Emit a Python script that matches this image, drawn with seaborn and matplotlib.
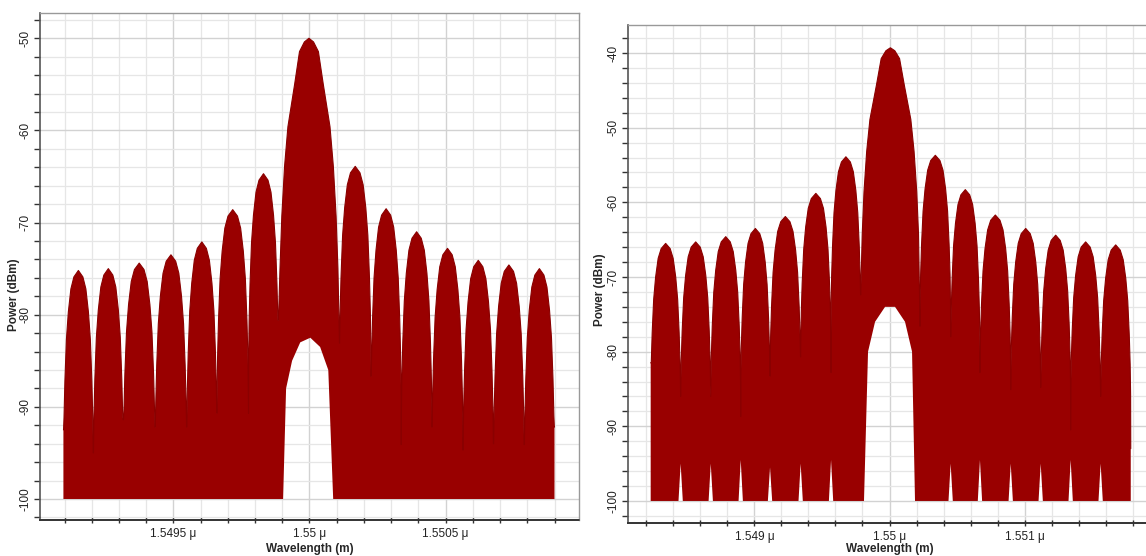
import numpy as np
import pandas as pd
import matplotlib
matplotlib.use("Agg")
import matplotlib.pyplot as plt
import seaborn as sns
from matplotlib.ticker import MultipleLocator, FuncFormatter

sns.set_theme(style="white")
plt.rcParams["font.family"] = ["Liberation Sans", "DejaVu Sans"]

# ---------------- data ----------------
# Left panel: lobe boundaries (nulls, µm), level at each null (dBm), lobe peaks (dBm)
left_nulls_um = [1.549096, 1.549206, 1.549316, 1.549433, 1.549549, 1.549660, 1.549776,
                 1.549886, 1.550110, 1.550226, 1.550337, 1.550450, 1.550564, 1.550676,
                 1.550789, 1.550900]
left_null_dbm = [-92.5, -95.0, -91.4, -92.2, -92.2, -90.7, -90.7, -80.6, -83.1, -86.7,
                 -94.1, -92.2, -94.7, -94.0, -94.1, -92.2]
left_peak_dbm = [-75.2, -75.0, -74.4, -73.5, -72.1, -68.6, -64.7, -50.0, -63.9, -68.5,
                 -71.0, -72.8, -74.1, -74.6, -75.0]
# hollow under the main lobe (lower edge of the trace)
left_hole_um = [1.549903, 1.549914, 1.549936, 1.549966, 1.550003, 1.550039, 1.550069, 1.550087]
left_hole_dbm = [-100.0, -88.0, -85.0, -83.0, -82.5, -83.5, -86.0, -100.0]
# lower edge of the trace at the inner nulls (none visible in the left panel)
left_floor_notch_dbm = []

# Right panel
right_nulls_um = [1.548231, 1.548453, 1.548676, 1.548898, 1.549115, 1.549342, 1.549567,
                  1.549787, 1.550226, 1.550453, 1.550670, 1.550898, 1.551120, 1.551342,
                  1.551564, 1.551787]
right_null_dbm = [-81.5, -86.0, -86.0, -88.7, -83.3, -80.7, -82.8, -72.4, -76.6, -78.0,
                  -82.8, -85.1, -84.8, -90.5, -86.0, -93.0]
right_peak_dbm = [-65.5, -65.3, -64.6, -63.5, -61.9, -58.8, -53.9, -39.3, -53.7, -58.3,
                  -61.7, -63.5, -64.4, -65.3, -65.7]
right_hole_um = [1.549811, 1.549841, 1.549893, 1.549967, 1.550041, 1.550115, 1.550167, 1.550189]
right_hole_dbm = [-100.0, -80.0, -76.0, -74.0, -74.0, -76.0, -80.0, -100.0]
# lower edge of the trace at inner nulls 1..14 (None = no gap at the bottom)
right_floor_notch_dbm = [-95.0, -95.0, -94.5, -95.5, -95.0, -94.5, None,
                         None, -95.0, -94.5, -95.0, -95.0, -94.5, -95.0]

# lobe outline (fraction of half-width from lobe centre, dB below lobe peak)
side_frac = [0.0, 0.3, 0.5, 0.67, 0.8, 0.9, 0.96, 0.99]
side_drop = [0.0, 0.7, 2.0, 4.5, 7.5, 12.0, 16.0, 20.0]
main_frac = [0.0, 0.15, 0.31, 0.47, 0.69, 0.8, 0.89, 0.95]
main_drop = [0.0, 0.4, 1.45, 5.0, 9.6, 13.9, 19.3, 25.0]

FLOOR = -100.0
RED = "#990000"


def build_trace(nulls, null_db, peaks):
    main_idx = int(np.argmax(peaks))
    xs, ys = [nulls[0]], [null_db[0]]
    for i, pk in enumerate(peaks):
        e0, e1 = nulls[i], nulls[i + 1]
        c, h = (e0 + e1) / 2, (e1 - e0) / 2
        fr, dr = (main_frac, main_drop) if i == main_idx else (side_frac, side_drop)
        for f, d in zip(fr[::-1], dr[::-1]):
            if f == 0:
                continue
            xs.append(c - f * h); ys.append(max(pk - d, null_db[i]))
        xs.append(c); ys.append(pk)
        for f, d in zip(fr, dr):
            if f == 0:
                continue
            xs.append(c + f * h); ys.append(max(pk - d, null_db[i + 1]))
        xs.append(e1); ys.append(null_db[i + 1])
    return pd.DataFrame({"wavelength": xs, "power": ys})


def lower_edge(nulls, hole_x, hole_y, notches, half_w):
    pts = [(nulls[0], FLOOR), (nulls[-1], FLOOR)]
    pts += list(zip(hole_x, hole_y))
    for xn, lv in zip(nulls[1:-1], notches):
        if lv is None:
            continue
        pts += [(xn - half_w, FLOOR), (xn, lv), (xn + half_w, FLOOR)]
    pts.sort(key=lambda p: p[0])
    return np.array([p[0] for p in pts]), np.array([p[1] for p in pts])


def draw(ax, nulls, null_db, peaks, hole_x, hole_y, notches, half_w):
    tr = build_trace(nulls, null_db, peaks)
    up_x = np.r_[nulls[0], tr["wavelength"].values, nulls[-1]]
    up_y = np.r_[FLOOR, tr["power"].values, FLOOR]
    lo_x, lo_y = lower_edge(nulls, hole_x, hole_y, notches, half_w)
    ax.fill(np.r_[up_x, lo_x[::-1]], np.r_[up_y, lo_y[::-1]], color=RED, lw=0, zorder=2)
    sns.lineplot(data=tr, x="wavelength", y="power", ax=ax, color="#8a0000",
                 lw=0.8, sort=False, zorder=3, estimator=None)


def style(ax, xlim, ylim, xmaj, xmin, xlabelpad):
    ax.set_xlim(*xlim)
    ax.set_ylim(*ylim)
    ax.xaxis.set_major_locator(MultipleLocator(xmaj))
    ax.xaxis.set_minor_locator(MultipleLocator(xmin))
    ax.yaxis.set_major_locator(MultipleLocator(10))
    ax.yaxis.set_minor_locator(MultipleLocator(2))
    ax.xaxis.set_major_formatter(FuncFormatter(lambda v, p: f"{v:.6g} \u03bc"))
    ax.yaxis.set_major_formatter(FuncFormatter(lambda v, p: f"{v:.0f}"))
    ax.set_axisbelow(True)
    ax.grid(which="major", color="#d2d2d2", lw=1.0)
    ax.grid(which="minor", color="#e6e6e6", lw=0.9)
    ax.tick_params(axis="y", which="both", direction="out", length=4, width=1,
                   color="#333333", labelsize=8.5, labelcolor="#222222", pad=2,
                   labelrotation=90, left=True)
    ax.tick_params(axis="x", which="both", direction="inout", length=4, width=1,
                   color="#333333", labelsize=8.5, labelcolor="#222222", pad=4, bottom=True)
    for lab in ax.get_yticklabels():
        lab.set_va("center")
    ax.spines["left"].set_color("#555555")
    ax.spines["left"].set_linewidth(1.2)
    ax.spines["bottom"].set_color("#333333")
    ax.spines["bottom"].set_linewidth(1.4)
    ax.spines["bottom"].set_linestyle((0, (1, 1)))
    for s in ("top", "right"):
        ax.spines[s].set_color("#999999")
        ax.spines[s].set_linewidth(1.0)
        ax.spines[s].set_linestyle((0, (1, 1)))
    ax.set_xlabel("Wavelength (m)", fontsize=8.5, fontweight="bold", labelpad=xlabelpad)
    ax.set_ylabel("Power (dBm)", fontsize=8.5, fontweight="bold")


fig = plt.figure(figsize=(11.46, 5.56), dpi=100)
W, H = 1146, 556
ax1 = fig.add_axes([40 / W, (H - 520) / H, 539 / W, 507 / H])
ax2 = fig.add_axes([628 / W, (H - 523) / H, 523 / W, 498 / H])

draw(ax1, left_nulls_um, left_null_dbm, left_peak_dbm, left_hole_um, left_hole_dbm,
     left_floor_notch_dbm, 0.000011)
draw(ax2, right_nulls_um, right_null_dbm, right_peak_dbm, right_hole_um, right_hole_dbm,
     right_floor_notch_dbm, 0.000016)

style(ax1, (1.54901, 1.55099), (-102.28, -47.26), 0.0005, 0.0001, 2)
style(ax2, (1.548063, 1.551937), (-102.95, -36.25), 0.001, 0.0002, 0)
ax1.yaxis.set_label_coords(-0.038, 0.444)
ax2.yaxis.set_label_coords(-0.042, 0.468)

fig.savefig("out.png", dpi=100, facecolor="white")
